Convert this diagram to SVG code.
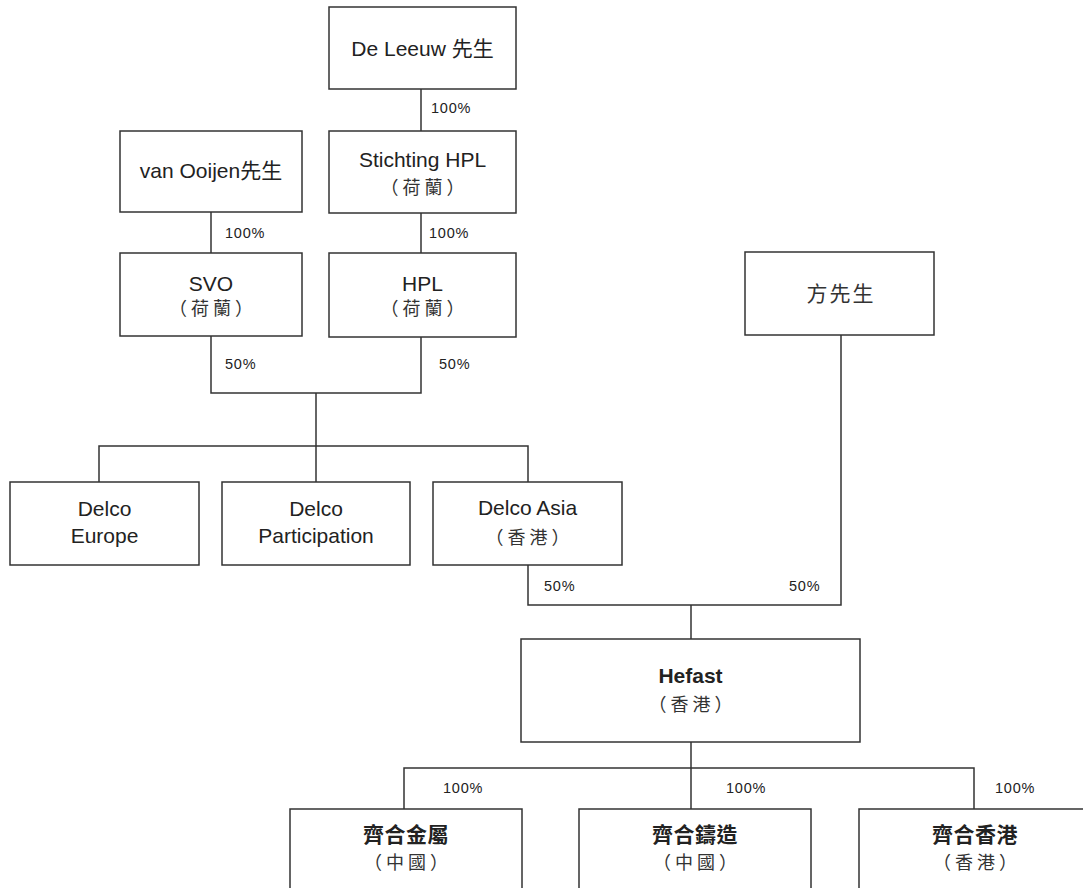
<svg xmlns="http://www.w3.org/2000/svg" width="1083" height="888" viewBox="0 0 1083 888">
<style>
.box{fill:#fff;stroke:#333;stroke-width:1.5}
.ln{fill:none;stroke:#333;stroke-width:1.5}
.t{font-family:"Liberation Sans","Noto Sans CJK TC",sans-serif;font-size:21px;fill:#222;text-anchor:middle}
.c{font-family:"Noto Sans CJK TC",sans-serif;font-size:18px;fill:#333;text-anchor:middle;letter-spacing:4px}
.b{font-weight:bold}
.k{font-family:"Noto Sans CJK TC",sans-serif;font-size:21px;font-weight:bold;fill:#222;text-anchor:middle;letter-spacing:0.5px}
.p{font-family:"Liberation Sans",sans-serif;font-size:14.5px;fill:#222;letter-spacing:0.8px}
</style>
<rect width="1083" height="888" fill="#fff"/>
<g id="connectors">
<path class="ln" d="M421,89V131"/>
<path class="ln" d="M211,212V253"/>
<path class="ln" d="M421,213V253"/>
<path class="ln" d="M211,336V393H421V337"/>
<path class="ln" d="M316,393V482"/>
<path class="ln" d="M99,482V446H528V482"/>
<path class="ln" d="M528,565V605H841V335"/>
<path class="ln" d="M691,605V639"/>
<path class="ln" d="M691,742V809"/>
<path class="ln" d="M404,809V768H974V809"/>
<text class="p" x="431" y="113">100%</text>
<text class="p" x="225" y="238">100%</text>
<text class="p" x="429" y="238">100%</text>
<text class="p" x="225" y="369">50%</text>
<text class="p" x="439" y="369">50%</text>
<text class="p" x="544" y="591">50%</text>
<text class="p" x="789" y="591">50%</text>
<text class="p" x="443" y="793">100%</text>
<text class="p" x="726" y="793">100%</text>
<text class="p" x="995" y="793">100%</text>
</g>
<g id="n-deleeuw"><rect class="box" x="329" y="7" width="187" height="82"/><text class="t" x="422.5" y="56">De Leeuw 先生</text></g>
<g id="n-vanooijen"><rect class="box" x="120" y="131" width="182" height="81"/><text class="t" x="211" y="178">van Ooijen先生</text></g>
<g id="n-stichting"><rect class="box" x="329" y="131" width="187" height="82"/><text class="t" x="422.5" y="167">Stichting HPL</text><text class="c" x="424.5" y="194">（荷蘭）</text></g>
<g id="n-svo"><rect class="box" x="120" y="253" width="182" height="83"/><text class="t" x="211" y="291">SVO</text><text class="c" x="213" y="315">（荷蘭）</text></g>
<g id="n-hpl"><rect class="box" x="329" y="253" width="187" height="84"/><text class="t" x="422.5" y="291">HPL</text><text class="c" x="424.5" y="315">（荷蘭）</text></g>
<g id="n-fang"><rect class="box" x="745" y="252" width="189" height="83"/><text class="c" x="841" y="301" style="font-size:21px;letter-spacing:2px">方先生</text></g>
<g id="n-delcoeurope"><rect class="box" x="10" y="482" width="189" height="83"/><text class="t" x="104.5" y="516">Delco</text><text class="t" x="104.5" y="543">Europe</text></g>
<g id="n-delcopart"><rect class="box" x="222" y="482" width="188" height="83"/><text class="t" x="316" y="516">Delco</text><text class="t" x="316" y="543">Participation</text></g>
<g id="n-delcoasia"><rect class="box" x="433" y="482" width="189" height="83"/><text class="t" x="527.5" y="515">Delco Asia</text><text class="c" x="529.5" y="544">（香港）</text></g>
<g id="n-hefast"><rect class="box" x="521" y="639" width="339" height="103"/><text class="t b" x="690.5" y="683">Hefast</text><text class="c" x="692.5" y="711">（香港）</text></g>
<g id="n-metal"><rect class="box" x="290" y="809" width="232" height="100"/><text class="k" x="406" y="842">齊合金屬</text><text class="c" x="408" y="869">（中國）</text></g>
<g id="n-casting"><rect class="box" x="579" y="809" width="232" height="100"/><text class="k" x="695" y="842">齊合鑄造</text><text class="c" x="697" y="869">（中國）</text></g>
<g id="n-hk"><rect class="box" x="859" y="809" width="232" height="100"/><text class="k" x="975" y="842">齊合香港</text><text class="c" x="977" y="869">（香港）</text></g>
</svg>
